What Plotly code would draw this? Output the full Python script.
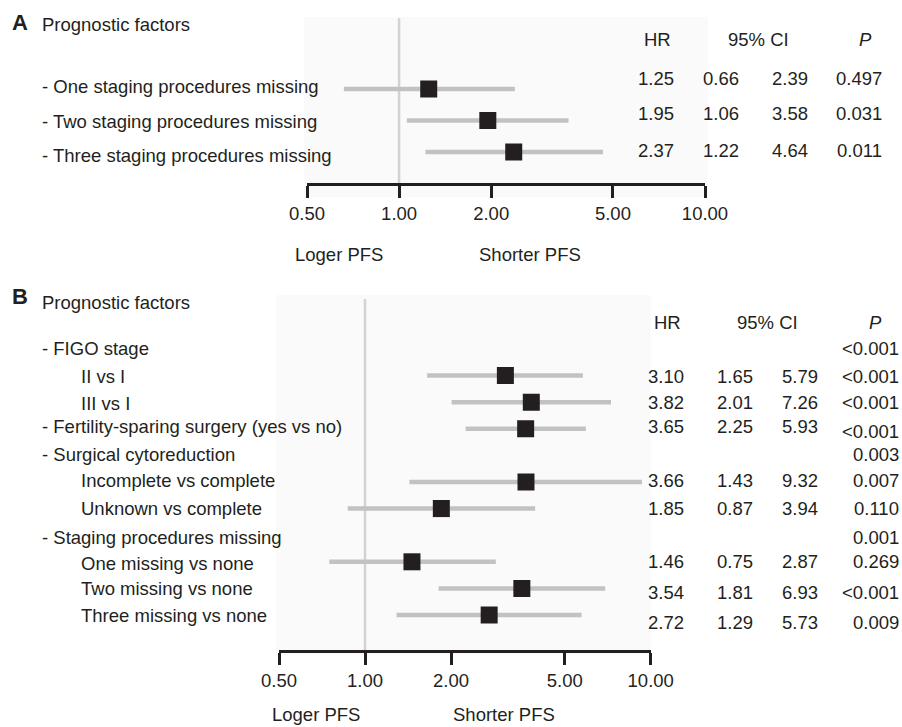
import math
import plotly.graph_objects as go

# ---------------- data ----------------
A_labels = ["- One staging procedures missing",
            "- Two staging procedures missing",
            "- Three staging procedures missing"]
A_hr = [1.25, 1.95, 2.37]
A_lo = [0.66, 1.06, 1.22]
A_hi = [2.39, 3.58, 4.64]
A_p = ["0.497", "0.031", "0.011"]

B_labels = ["- FIGO stage", "II vs I", "III vs I",
            "- Fertility-sparing surgery (yes vs no)",
            "- Surgical cytoreduction", "Incomplete vs complete", "Unknown vs complete",
            "- Staging procedures missing", "One missing vs none", "Two missing vs none",
            "Three missing vs none"]
B_hr = [None, 3.10, 3.82, 3.65, None, 3.66, 1.85, None, 1.46, 3.54, 2.72]
B_lo = [None, 1.65, 2.01, 2.25, None, 1.43, 0.87, None, 0.75, 1.81, 1.29]
B_hi = [None, 5.79, 7.26, 5.93, None, 9.32, 3.94, None, 2.87, 6.93, 5.73]
B_p = ["<0.001", "<0.001", "<0.001", "<0.001", "0.003", "0.007", "0.110",
       "0.001", "0.269", "<0.001", "0.009"]

tick_vals = [0.5, 1, 2, 5, 10]
tick_text = ["0.50", "1.00", "2.00", "5.00", "10.00"]
left_text, right_text = "Loger PFS", "Shorter PFS"

# ---------------- styling / layout helpers ----------------
W, H = 902, 727
OFFX, OFFY = 0, 0   # body margin removed by post_script
FONT = "Liberation Sans, Arial, Helvetica, sans-serif"
INK = "#231f20"
CI_COL = "#c2c2c2"
REF_COL = "#d2d2d2"
BG = "#fafafa"
FS = 18.5


def px(x):
    return (x - OFFX) / W


def py(y):
    return 1 - (y - OFFY) / H


fig = go.Figure()


def add_panel(xa, ya, hr, lo, hi):
    rows = list(range(len(hr)))
    cx, cy = [], []
    for i, l, h in zip(rows, lo, hi):
        if l is None:
            continue
        cx += [l, h, None]
        cy += [i, i, None]
    fig.add_trace(go.Scatter(x=cx, y=cy, mode="lines", xaxis=xa, yaxis=ya,
                             line=dict(color=CI_COL, width=4.5), hoverinfo="skip"))
    mx = [v for v in hr if v is not None]
    my = [i for i, v in zip(rows, hr) if v is not None]
    fig.add_trace(go.Scatter(x=mx, y=my, mode="markers", xaxis=xa, yaxis=ya,
                             marker=dict(symbol="square", size=17, color=INK,
                                         line=dict(width=0))))


add_panel("x", "y", A_hr, A_lo, A_hi)
add_panel("x2", "y2", B_hr, B_lo, B_hi)

axis_common = dict(type="log", range=[math.log10(0.5), 1], tickvals=tick_vals,
                   ticktext=tick_text, showline=True, linewidth=3, linecolor=INK,
                   ticks="outside", ticklen=12, tickwidth=3, tickcolor=INK,
                   showgrid=False, zeroline=False, ticklabelstandoff=0,
                   automargin=False,
                   tickfont=dict(family=FONT, size=FS, color=INK))

# panel A geometry: rows at pixel 89 + 31.5*i, axis 19..183
A_y0, A_dy, A_top, A_bot = 89, 31.5, 19, 183
# panel B geometry: rows at pixel 349 + 26.6*i, axis 299..650
B_y0, B_dy, B_top, B_bot = 349, 26.6, 299, 650

fig.update_layout(
    template="none",
    width=W, height=H, margin=dict(l=0, r=0, t=0, b=0, pad=0), autosize=False,
    paper_bgcolor="white", plot_bgcolor="rgba(0,0,0,0)", showlegend=False,
    font=dict(family=FONT, color=INK, size=FS),
    xaxis=dict(domain=[px(307), px(705)], anchor="y", **axis_common),
    yaxis=dict(domain=[py(A_bot), py(A_top)], anchor="x", visible=False, automargin=False,
               range=[(A_bot - A_y0) / A_dy, (A_top - A_y0) / A_dy]),
    xaxis2=dict(domain=[px(279), px(650.7)], anchor="y2", **axis_common),
    yaxis2=dict(domain=[py(B_bot), py(B_top)], anchor="x2", visible=False, automargin=False,
                range=[(B_bot - B_y0) / B_dy, (B_top - B_y0) / B_dy]),
)

shapes = [
    dict(type="rect", xref="paper", yref="paper", x0=px(304), x1=px(708),
         y0=py(197), y1=py(17), fillcolor=BG, line=dict(width=0), layer="below"),
    dict(type="rect", xref="paper", yref="paper", x0=px(276), x1=px(651),
         y0=py(655), y1=py(295), fillcolor=BG, line=dict(width=0), layer="below"),
    dict(type="line", xref="x", yref="y domain", x0=1, x1=1, y0=0, y1=1.005,
         line=dict(color=REF_COL, width=2.5), layer="below"),
    dict(type="line", xref="x2", yref="y2 domain", x0=1, x1=1, y0=0, y1=1,
         line=dict(color=REF_COL, width=2.5), layer="below"),
]
fig.update_layout(shapes=shapes)

ann = []


def text(x, y, s, anchor="left", size=FS, **kw):
    ann.append(dict(x=px(x), y=py(y), xref="paper", yref="paper", text=s,
                    showarrow=False, xanchor=anchor, yanchor="middle",
                    font=dict(family=FONT, size=size, color=INK), **kw))


def rowtext(xa, ya, x, row, s, shift, anchor="center"):
    ann.append(dict(x=px(x), y=row, xref="paper", yref=ya, text=s, showarrow=False,
                    xanchor=anchor, yanchor="middle", yshift=shift,
                    font=dict(family=FONT, size=FS, color=INK)))


# Panel A titles
text(10, 23, "<b>A</b>", size=22)
text(40, 24, "Prognostic factors", size=FS)
text(657, 40, "HR", anchor="center")
text(758, 40, "95% CI", anchor="center")
text(865, 40, "<i>P</i>", anchor="center")
A_label_shift = [3, -1, -3]
A_val_shift = [11, 7, 2]
for i, lab in enumerate(A_labels):
    rowtext("x", "y", 40, i, lab, A_label_shift[i], anchor="left")
    rowtext("x", "y", 656, i, f"{A_hr[i]:.2f}", A_val_shift[i])
    rowtext("x", "y", 721, i, f"{A_lo[i]:.2f}", A_val_shift[i])
    rowtext("x", "y", 790, i, f"{A_hi[i]:.2f}", A_val_shift[i])
    rowtext("x", "y", 884, i, A_p[i], A_val_shift[i], anchor="right")
text(339, 255, left_text, anchor="center")
text(530, 255, right_text, anchor="center")

# Panel B titles
text(10, 296, "<b>B</b>", size=22)
text(40, 302, "Prognostic factors", size=FS)
text(667, 322, "HR", anchor="center")
text(767, 322, "95% CI", anchor="center")
text(875, 322, "<i>P</i>", anchor="center")
B_label_shift = [0, -1, -1, 2, 1, 1, 0, -2, -2, 0, 0]
B_val_shift = [0, -1, 0, 2, 1, 1, 0, -2, 0, -4, -7]
B_p_shift = [0, -1, 0, -3, 1, 1, 0, -2, 0, -4, -7]
for i, lab in enumerate(B_labels):
    indent = 40 if lab.startswith("-") else 79
    rowtext("x2", "y2", indent, i, lab, B_label_shift[i], anchor="left")
    if B_hr[i] is not None:
        rowtext("x2", "y2", 666, i, f"{B_hr[i]:.2f}", B_val_shift[i])
        rowtext("x2", "y2", 735, i, f"{B_lo[i]:.2f}", B_val_shift[i])
        rowtext("x2", "y2", 800, i, f"{B_hi[i]:.2f}", B_val_shift[i])
    rowtext("x2", "y2", 901, i, B_p[i], B_p_shift[i], anchor="right")
text(316, 714, left_text, anchor="center")
text(504, 714, right_text, anchor="center")

fig.update_layout(annotations=ann)
fig.write_html("out.html", config={"displayModeBar": False},
               post_script="document.body.style.margin='0';document.body.style.overflow='hidden';")
